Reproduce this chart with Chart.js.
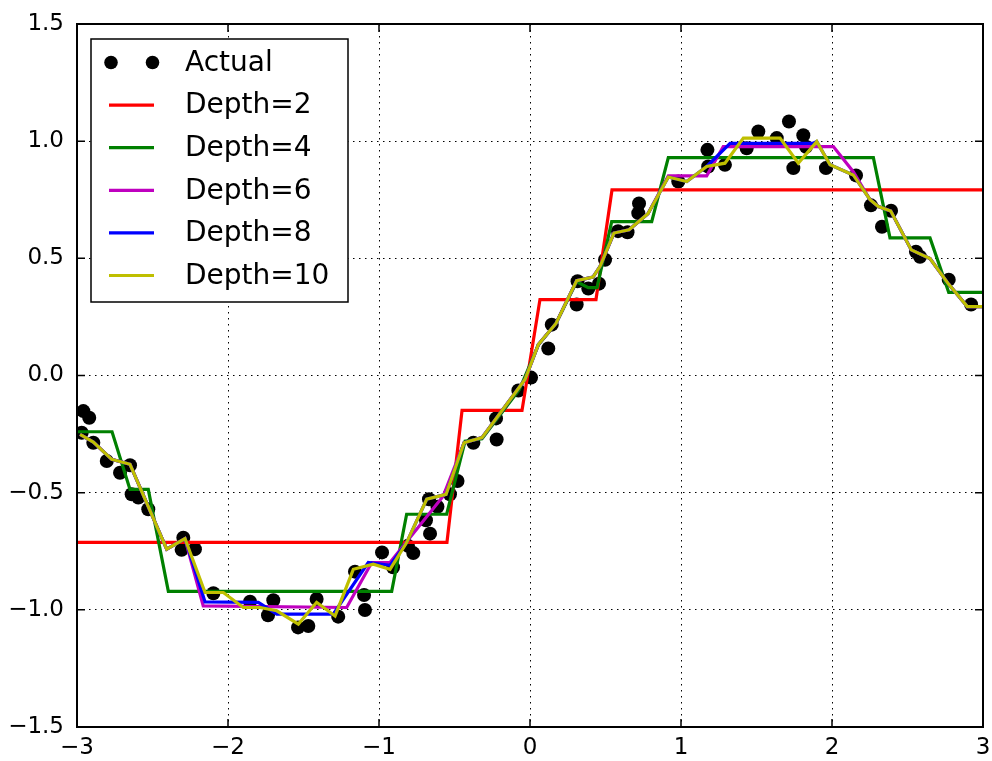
<!DOCTYPE html>
<html>
<head>
<meta charset="utf-8">
<script src="https://cdn.jsdelivr.net/npm/chart.js@4.4.1/dist/chart.umd.min.js"></script>
<style>
  html, body { margin: 0; padding: 0; background: #fff; }
  canvas { display: block; }
</style>
</head>
<body>
<canvas id="chart" width="992" height="761"></canvas>
<script>

// ------------------------------
// DATA
// ------------------------------

const actualX = [-2.969,-2.958,-2.919,-2.892,-2.803,-2.715,-2.649,-2.638,-2.594,-2.528,
  -2.307,-2.296,-2.219,-2.097,-1.854,-1.735,-1.700,-1.536,-1.468,-1.413,
  -1.270,-1.159,-1.099,-1.093,-0.980,-0.907,-0.808,-0.773,-0.689,-0.669,
  -0.662,-0.613,-0.530,-0.480,-0.375,-0.225,-0.221,-0.077,0.007,0.121,
  0.144,0.309,0.315,0.386,0.457,0.497,0.583,0.646,0.717,0.722,
  0.982,1.175,1.180,1.291,1.435,1.512,1.634,1.715,1.744,1.810,
  1.828,1.960,2.159,2.258,2.331,2.391,2.556,2.583,2.773,2.921]
const actualY = [-0.244,-0.152,-0.180,-0.287,-0.365,-0.415,-0.383,-0.507,-0.521,-0.571,
  -0.744,-0.692,-0.741,-0.929,-0.965,-1.023,-0.959,-1.075,-1.069,-0.954,
  -1.029,-0.837,-0.937,-1.001,-0.755,-0.818,-0.727,-0.758,-0.618,-0.528,
  -0.675,-0.560,-0.507,-0.450,-0.287,-0.183,-0.273,-0.064,-0.009,0.115,
  0.217,0.303,0.402,0.371,0.392,0.494,0.616,0.611,0.693,0.734,
  0.828,0.963,0.892,0.899,0.970,1.041,1.013,1.084,0.885,1.025,
  0.976,0.885,0.854,0.726,0.635,0.703,0.528,0.507,0.409,0.303]

const depth2X = [-3,-0.55,-0.45,-0.053,0.066,0.437,0.543,3]
const depth2Y = [-0.712,-0.712,-0.149,-0.149,0.324,0.324,0.792,0.792]

const depth4X = [-3,-2.768,-2.649,-2.528,-2.395,-0.916,-0.817,-0.552,-0.430,-0.318,
  -0.07,0.055,0.172,0.309,0.386,0.444,0.541,0.806,0.916,2.274,2.384,2.649,2.773,3]
const depth4Y = [-0.24,-0.24,-0.486,-0.486,-0.921,-0.921,-0.592,-0.592,-0.28,-0.27,
  -0.06,0.13,0.222,0.40,0.375,0.375,0.657,0.657,0.93,0.93,0.587,0.587,0.355,0.355]

const depth6X = [-2.98,-2.892,-2.770,-2.649,-2.406,-2.285,-2.164,-1.214,-1.048,-0.927,
  -0.574,-0.437,-0.318,-0.033,0.055,0.172,0.309,0.417,0.464,0.556,
  0.656,0.781,0.916,1.170,1.280,2.009,2.141,2.252,2.307,2.389,
  2.525,2.649,2.772,2.896,3]
const depth6Y = [-0.251,-0.284,-0.358,-0.379,-0.741,-0.696,-0.983,-0.990,-0.798,-0.798,
  -0.514,-0.287,-0.265,-0.017,0.132,0.222,0.405,0.420,0.466,0.608,
  0.622,0.690,0.852,0.852,0.977,0.977,0.870,0.750,0.721,0.702,
  0.536,0.499,0.390,0.294,0.294]

const depth8X = [-2.98,-2.892,-2.770,-2.649,-2.406,-2.285,-2.152,-1.799,-1.677,-1.303,
  -1.071,-0.927,-0.817,-0.684,-0.556,-0.437,-0.318,-0.033,0.055,0.172,
  0.309,0.417,0.464,0.556,0.656,0.781,0.916,1.038,1.170,1.325,
  1.874,1.899,1.987,2.141,2.252,2.307,2.389,2.525,2.649,2.772,
  2.896,3]
const depth8Y = [-0.251,-0.284,-0.358,-0.379,-0.741,-0.696,-0.966,-0.968,-1.018,-1.018,
  -0.798,-0.810,-0.713,-0.528,-0.507,-0.287,-0.265,-0.017,0.132,0.222,
  0.405,0.420,0.466,0.608,0.622,0.690,0.847,0.828,0.892,0.991,
  0.991,0.998,0.899,0.856,0.750,0.721,0.702,0.536,0.499,0.390,
  0.294,0.294]

const depth10X = [-2.98,-2.892,-2.770,-2.649,-2.406,-2.285,-2.152,-2.031,-1.899,-1.788,
  -1.677,-1.534,-1.413,-1.291,-1.170,-1.038,-0.927,-0.817,-0.684,-0.556,
  -0.437,-0.318,-0.033,0.055,0.172,0.309,0.417,0.464,0.556,0.656,
  0.781,0.916,1.038,1.170,1.291,1.413,1.656,1.777,1.899,1.987,
  2.141,2.252,2.307,2.389,2.525,2.649,2.772,2.896,3]
const depth10Y = [-0.251,-0.284,-0.358,-0.379,-0.741,-0.696,-0.926,-0.926,-0.990,-0.990,
  -1.004,-1.061,-0.968,-1.026,-0.827,-0.805,-0.827,-0.713,-0.528,-0.507,
  -0.287,-0.265,-0.017,0.132,0.222,0.405,0.420,0.466,0.608,0.622,
  0.690,0.847,0.828,0.892,0.906,1.013,1.013,0.906,0.998,0.899,
  0.856,0.750,0.721,0.702,0.536,0.499,0.390,0.294,0.294]

const xTicks = [-3,-2,-1,0,1,2,3]
const yTicks = [-1.5,-1.0,-0.5,0.0,0.5,1.0,1.5]

const FONT = "'DejaVu Sans', 'Liberation Sans', sans-serif"

function pts(xs, ys){
    return xs.map((x,i) => ({x:x, y:ys[i]}))
}

function fmt(v, digits){
    const s = Math.abs(v).toFixed(digits)
    return v < 0 ? "\u2212" + s : s
}

// ------------------------------
// PLUGINS: frame + inward ticks, legend box
// ------------------------------

const framePlugin = {
    id:"frame",
    afterDraw(chart){
        const {ctx, chartArea:a, scales} = chart
        ctx.save()
        ctx.strokeStyle = "#000"
        ctx.lineWidth = 1.5
        ctx.beginPath()
        for(const v of xTicks){
            const px = scales.x.getPixelForValue(v)
            ctx.moveTo(px, a.bottom); ctx.lineTo(px, a.bottom - 8)
            ctx.moveTo(px, a.top); ctx.lineTo(px, a.top + 8)
        }
        for(const v of yTicks){
            const py = scales.y.getPixelForValue(v)
            ctx.moveTo(a.left, py); ctx.lineTo(a.left + 8, py)
            ctx.moveTo(a.right, py); ctx.lineTo(a.right - 8, py)
        }
        ctx.stroke()
        ctx.lineWidth = 2
        ctx.strokeRect(a.left, a.top, a.right - a.left, a.bottom - a.top)
        ctx.restore()
    }
}

const legendPlugin = {
    id:"boxLegend",
    afterDraw(chart){
        const ctx = chart.ctx
        const a = chart.chartArea
        const left = a.left + 14, top = a.top + 15
        const w = 257, h = 263
        ctx.save()
        ctx.fillStyle = "#fff"
        ctx.fillRect(left, top, w, h)
        ctx.strokeStyle = "#000"
        ctx.lineWidth = 1.5
        ctx.strokeRect(left, top, w, h)
        ctx.font = "28px " + FONT
        ctx.textBaseline = "middle"
        chart.data.datasets.forEach((ds, i) => {
            const y = top + 23.5 + i * 42.6
            if(ds.showLine){
                ctx.strokeStyle = ds.borderColor
                ctx.lineWidth = 3.2
                ctx.beginPath()
                ctx.moveTo(left + 18, y); ctx.lineTo(left + 63, y)
                ctx.stroke()
            } else {
                ctx.fillStyle = ds.backgroundColor
                for(const dx of [20, 61.5]){
                    ctx.beginPath()
                    ctx.arc(left + dx, y, 6.8, 0, Math.PI * 2)
                    ctx.fill()
                }
            }
            ctx.fillStyle = "#000"
            ctx.fillText(ds.label, left + 94, y + 1)
        })
        ctx.restore()
    }
}

// ------------------------------
// CHART
// ------------------------------

function lineSet(label, xs, ys, color, order){
    return {
        label:label,
        data:pts(xs, ys),
        showLine:true,
        borderColor:color,
        backgroundColor:color,
        borderWidth:3.2,
        pointRadius:0,
        tension:0,
        order:order
    }
}

const ctx = document.getElementById("chart").getContext("2d")

new Chart(ctx,{
    type:"scatter",
    data:{
        datasets:[
            {
                label:"Actual",
                data:pts(actualX, actualY),
                showLine:false,
                backgroundColor:"#000",
                borderColor:"#000",
                pointRadius:7,
                pointBorderWidth:0,
                order:5
            },
            lineSet("Depth=2", depth2X, depth2Y, "#ff0000", 4),
            lineSet("Depth=4", depth4X, depth4Y, "#008000", 3),
            lineSet("Depth=6", depth6X, depth6Y, "#bf00bf", 2),
            lineSet("Depth=8", depth8X, depth8Y, "#0000ff", 1),
            lineSet("Depth=10", depth10X, depth10Y, "#bfbf00", 0)
        ]
    },
    options:{
        responsive:false,
        animation:false,
        layout:{ padding:{ top:24, right:9, left:0, bottom:0 } },
        plugins:{
            legend:{ display:false },
            tooltip:{ enabled:false }
        },
        scales:{
            x:{
                type:"linear",
                min:-3, max:3,
                afterFit(scale){
                    scale.height = 34
                    scale.paddingLeft = 0
                    scale.paddingRight = 0
                },
                afterBuildTicks(scale){ scale.ticks = xTicks.map(v => ({value:v})) },
                grid:{ color:"#000", lineWidth:1, drawTicks:false },
                border:{ display:false, dash:[1.5,4.5] },
                ticks:{
                    padding:7,
                    color:"#000",
                    font:{ family:FONT, size:23 },
                    callback:v => fmt(v, 0)
                }
            },
            y:{
                type:"linear",
                min:-1.5, max:1.5,
                afterFit(scale){
                    scale.width = 77
                    scale.paddingTop = 0
                    scale.paddingBottom = 0
                },
                afterBuildTicks(scale){ scale.ticks = yTicks.map(v => ({value:v})) },
                grid:{ color:"#000", lineWidth:1, drawTicks:false },
                border:{ display:false, dash:[1.5,4.5] },
                ticks:{
                    padding:13,
                    color:"#000",
                    font:{ family:FONT, size:23 },
                    callback:v => fmt(v, 1)
                }
            }
        }
    },
    plugins:[framePlugin, legendPlugin]
})

</script>
</body>
</html>
